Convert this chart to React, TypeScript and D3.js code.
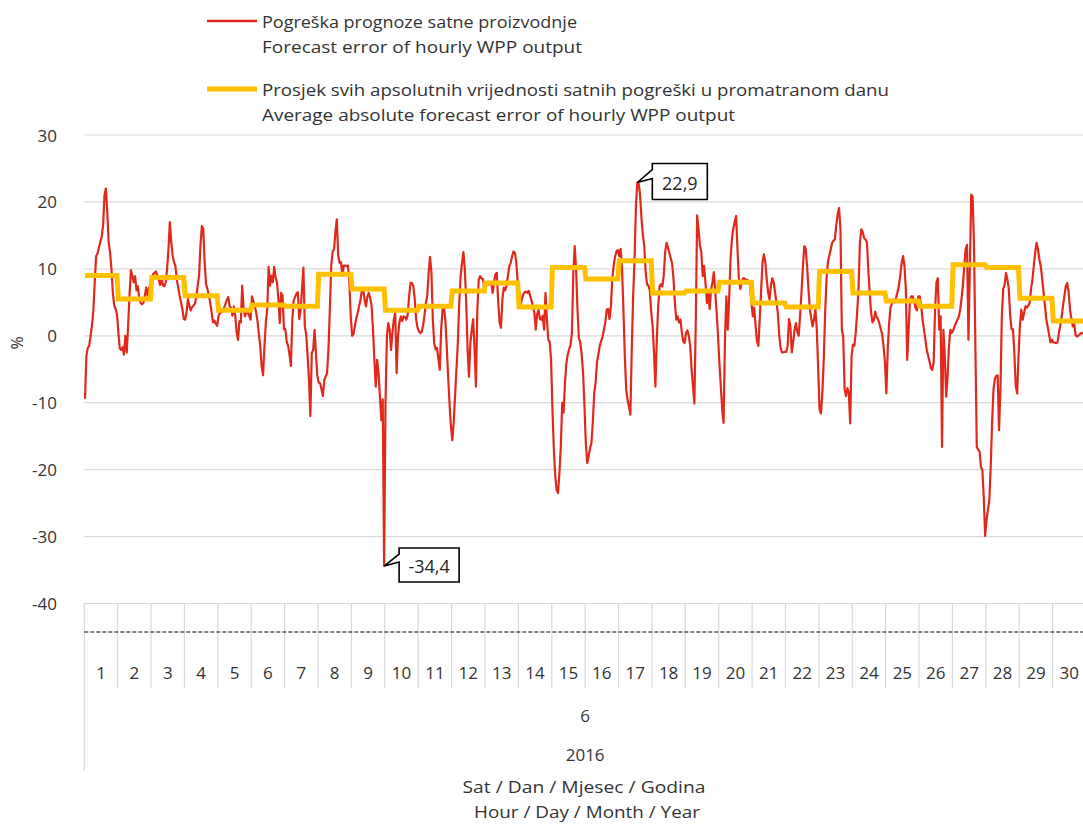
import React from 'react';
import * as d3 from 'd3';

// ---------- data ----------
const dayLabels = ['1','2','3','4','5','6','7','8','9','10','11','12','13','14','15','16','17','18','19','20','21','22','23','24','25','26','27','28','29','30'];
const monthLabel = '6';
const yearLabel = '2016';
const yTicks = [30, 20, 10, 0, -10, -20, -30, -40];

const legendRed = ['Pogreška prognoze satne proizvodnje', 'Forecast error of hourly WPP output'];
const legendYellow = ['Prosjek svih apsolutnih vrijednosti satnih pogreški u promatranom danu', 'Average absolute forecast error of hourly WPP output'];
const xTitle = ['Sat / Dan / Mjesec / Godina', 'Hour / Day / Month / Year'];

// daily average of absolute hourly errors (%)
const dailyAvgAbsError = [9.0, 5.5, 8.7, 6.0, 3.8, 4.6, 4.4, 9.2, 7.0, 3.8, 4.4, 6.7, 7.9, 4.3, 10.2, 8.5, 11.2, 6.4, 6.7, 8.0, 4.9, 4.3, 9.6, 6.4, 5.2, 4.4, 10.6, 10.2, 5.6, 2.2];

// hourly forecast error (%), one row per day, 24 hours each
const hourlyError: number[][] = [
  [-9.4, -3, -1.8, -1.5, 0, 1.5, 3.8, 8, 11.9, 12.3, 13.2, 14.0, 14.8, 16.5, 21.0, 22.0, 18.5, 14.0, 12.5, 10.0, 6.5, 4.5, 4.0, 3.2],
  [0.5, -1.9, -2.1, -1.7, -2.8, 0.0, -2.5, 1.5, 6.0, 9.8, 9.0, 8.0, 8.9, 6.8, 7.4, 5.5, 4.9, 4.7, 4.9, 6.0, 7.2, 6.0, 7.2, 7.6],
  [8.8, 9.2, 9.4, 9.6, 9.0, 8.4, 7.6, 8.8, 7.5, 7.4, 8.0, 9.9, 13.0, 17.0, 14.0, 12.0, 11.0, 10.4, 8.4, 7.2, 6.0, 5.0, 4.0, 2.5],
  [2.4, 3.5, 5.5, 4.5, 3.8, 4.3, 4.5, 4.8, 5.8, 7.5, 9.0, 13.5, 16.4, 16.0, 11.0, 7.7, 7.0, 6.0, 5.0, 3.5, 2.0, 2.3, 1.8, 1.5],
  [3.0, 3.4, 3.5, 3.7, 4.2, 4.8, 5.4, 5.8, 4.4, 4.2, 3.0, 4.4, 3.0, 0.5, -0.6, 2.2, 2.0, 7.5, 4.0, 2.9, 3.6, 3.5, 3.0, 2.4],
  [5.9, 5.2, 4.5, 3.5, 2.2, 0.2, -1.6, -4.6, -5.9, -1.5, 2.0, 4.0, 10.3, 7.5, 9.0, 8.0, 10.3, 8.7, 8.0, 5.5, 1.9, 6.4, 6.0, 1.0],
  [1.0, -0.9, -1.5, -2.8, -4.5, 2.4, 5.3, 5.8, 6.3, 6.5, 2.5, 3.9, 7.0, 10.2, 1.4, 0.2, -3.0, -6.5, -12.0, -2.6, -2.1, 0.9, -2.6, -6.0],
  [-7.0, -7.1, -8.0, -9.0, -6.6, -6.1, -5.6, -2.0, 4.0, 10.5, 12.6, 12.9, 15.5, 17.4, 12.0, 10.9, 11.0, 9.0, 10.5, 10.5, 10.4, 10.5, 8.0, 3.0],
  [0.0, 0.3, 1.5, 2.6, 3.4, 4.4, 5.3, 6.8, 7.0, 5.3, 4.4, 5.9, 6.4, 5.6, 4.5, 1.0, -3.6, -7.6, -3.6, -5.6, -9.1, -12.6, -9.5, -34.4],
  [-10.0, 0.0, 1.9, 0.9, -2.1, 0.5, 2.5, 3.4, -5.6, 0.0, 2.0, 2.9, 2.2, 2.9, 2.8, 2.4, 3.2, 6.0, 7.9, 7.9, 7.4, 5.5, 2.5, 1.2],
  [0.7, 0.4, 0.6, 1.5, 3.0, 4.9, 6.0, 9.4, 11.8, 9.5, 2.5, -1.1, -2.0, -1.8, -3.4, -5.1, 1.0, 3.9, 4.2, 2.4, -1.6, -6.0, -10.0, -13.5],
  [-15.6, -13.0, -9.0, -5.0, -1.0, 5.0, 8.9, 10.9, 12.5, 10.0, 5.0, -2.0, -6.1, -1.1, 0.9, 2.5, -2.0, -7.6, 3.9, 8.4, 8.9, 8.6, 8.5, 7.0],
  [8.0, 7.8, 7.6, 7.8, 7.9, 6.4, 8.0, 9.2, 9.4, 5.0, 2.0, 1.2, 5.4, 7.2, 6.8, 7.5, 9.0, 10.4, 10.9, 11.9, 12.6, 12.4, 11.0, 8.0],
  [6.4, 4.5, 5.5, 6.2, 6.5, 6.6, 6.4, 6.7, 6.0, 5.2, 4.3, 3.4, 0.9, 3.2, 3.9, 2.5, 2.4, 3.0, 0.9, 6.4, 2.5, -0.6, -0.9, -3.5],
  [-11.1, -17.0, -21.0, -23.0, -23.5, -20.5, -16.6, -10.0, -11.5, -7.0, -4.1, -2.8, -2.0, -1.4, 0.5, 9.5, 13.4, 9.9, 3.9, -0.4, -1.0, -2.8, -5.5, -10.5],
  [-16.1, -19.0, -18.0, -16.8, -16.0, -13.0, -8.6, -7.0, -4.0, -2.8, -1.5, -0.8, -0.1, 0.9, 2.0, 3.9, 4.0, 2.5, 4.4, 8.4, 10.5, 11.8, 12.6, 12.8],
  [11.9, 13.0, 10.0, 4.0, -3.0, -8.0, -9.6, -10.6, -11.8, -2.0, 6.0, 11.4, 19.4, 22.9, 22.7, 21.0, 17.5, 15.0, 13.4, 9.5, 7.7, 7.5, 6.8, 3.5],
  [1.4, -2.5, -7.6, -0.6, 4.4, 7.4, 7.7, 7.4, 9.0, 12.5, 13.9, 13.2, 12.4, 11.6, 10.8, 8.5, 5.0, 2.4, 2.9, 2.0, 2.4, 0.5, -0.8, -1.1],
  [0.4, 0.8, 0.0, -1.5, -5.0, -7.5, -10.1, 2.0, 18.0, 16.0, 13.5, 12.5, 8.9, 10.4, 7.9, 4.9, 6.5, 4.0, 6.9, 8.0, 9.5, 6.5, 3.5, 0.0],
  [-4.1, -7.5, -11.0, -13.0, -0.6, 5.9, 0.9, 5.5, 11.5, 14.5, 16.0, 17.0, 17.9, 12.9, 8.5, 7.0, 8.0, 8.6, 8.6, 8.2, 8.4, 8.0, 7.6, 5.0],
  [2.9, 4.2, 1.5, -0.8, -1.5, 2.5, 6.9, 11.0, 12.2, 11.0, 8.5, 6.5, 5.4, 7.5, 8.6, 8.0, 6.5, 5.0, 3.4, 0.0, -1.8, -2.5, -2.5, -2.4],
  [-2.4, -1.6, 2.5, 1.5, -2.5, -1.0, 0.8, 1.9, 0.6, 0.0, 3.0, 6.5, 10.2, 13.4, 13.0, 10.5, 7.0, 4.0, 2.6, 1.4, 2.5, 4.0, 1.0, -5.0],
  [-11.0, -11.6, -8.5, -3.5, 3.4, 8.5, 11.0, 12.0, 12.9, 13.9, 14.2, 14.4, 16.5, 18.2, 19.1, 16.0, 0.9, -0.1, -8.0, -9.0, -7.8, -8.5, -13.1, -3.0],
  [-1.3, -1.5, 0.5, 3.5, 7.0, 14.0, 15.9, 15.5, 14.6, 14.4, 14.0, 10.0, 6.5, 3.5, 2.0, 2.3, 3.6, 2.8, 2.5, 1.8, 1.0, 0.2, -1.6, -4.0],
  [-8.6, -2.0, 1.9, 4.2, 4.8, 5.4, 5.0, 5.7, 6.5, 7.5, 9.0, 10.9, 11.9, 10.5, 7.0, -3.6, 0.9, 5.4, 5.9, 5.9, 5.0, 4.2, 3.8, 5.9],
  [5.9, 4.5, 2.5, 1.0, -0.5, -2.1, -3.0, -3.8, -4.8, -5.1, -4.0, 3.9, 8.0, 8.6, 0.9, 2.9, -16.6, 0.9, -3.0, -9.1, -6.1, -1.6, 0.9, 0.4],
  [0.8, 1.4, 1.9, 2.4, 2.8, 3.8, 5.5, 7.5, 10.4, 13.0, 13.6, -0.6, 10.0, 21.1, 20.8, 13.4, -1.6, -16.6, -17.0, -17.3, -19.6, -20.0, -24.1, -29.9],
  [-27.5, -26.0, -24.6, -19.6, -13.0, -8.0, -6.4, -6.0, -5.9, -14.1, -8.0, 3.0, 7.0, 7.6, 9.4, 8.4, 7.0, 3.0, 1.0, 1.0, -2.6, -7.5, -8.6, -3.0],
  [1.5, 3.9, 2.4, 3.4, 4.4, 4.2, 4.5, 4.9, 7.0, 8.4, 10.5, 12.5, 13.9, 12.9, 11.4, 10.4, 8.5, 6.5, 4.5, 2.4, 1.3, 0.1, -1.0, -0.6],
  [-1.0, -1.0, -1.1, -1.0, 0.4, 1.5, 2.8, 4.5, 6.0, 7.4, 7.9, 6.5, 4.0, 2.5, 1.4, 1.8, 0.1, -0.1, 0.0, 0.2, 0.4, 0.4, 0.5, 0.5],
];

// ---------- layout ----------
const W = 1083;
const H = 824;
const plotLeft = 84.3;
const plotRight = 1086;
const plotTop = 135;
const plotBottom = 603.5;
const FONT = "'Open Sans', 'Liberation Sans', sans-serif";
const TEXT = '#333333';
const GRID = '#d9d9d9';
const RED = '#e0281c';
const GOLD = '#ffc000';

export default function App() {
  const flat = hourlyError.flat();
  const n = flat.length;
  const hoursPerDay = 24;

  const x = d3.scaleLinear().domain([0, n]).range([plotLeft, plotRight]);
  const y = d3.scaleLinear().domain([-40, 30]).range([plotBottom, plotTop]);

  const redPath = d3.line<number>().x((_, i) => x(i + 0.5)).y(d => y(d))(flat) || '';
  const avgSeries = flat.map((_, i) => dailyAvgAbsError[Math.floor(i / hoursPerDay)]);
  const goldPath = d3.line<number>().x((_, i) => x(i + 0.5)).y(d => y(d))(avgSeries) || '';

  const iMin = d3.minIndex(flat);
  const iMax = d3.maxIndex(flat);
  const fmt = (v: number) => v.toFixed(1).replace('.', ',');

  const callout = (i: number, w: number, h: number) => {
    const tx = x(i + 0.5);
    const ty = y(flat[i]);
    const bl = tx + 15;
    const bt = ty - h / 2 - 1;
    const path = `M${bl},${bt} H${bl + w} V${bt + h} H${bl} V${ty - 4} L${tx},${ty} L${bl},${bt + 6} Z`;
    return (
      <g key={'c' + i}>
        <path d={path} fill="#fff" stroke="#000" strokeWidth={1.6} />
        <text x={bl + w / 2} y={bt + h / 2 + 1} textAnchor="middle" dominantBaseline="central" fontSize={18} fill="#262626" fontFamily={FONT}>{fmt(flat[i])}</text>
      </g>
    );
  };

  const dayEdges = d3.range(dayLabels.length + 1).map(d => x(d * hoursPerDay));
  const midX = (plotLeft + plotRight) / 2;

  return (
    <svg width={W} height={H} style={{ position: 'absolute', left: 0, top: 0 }} fontFamily={FONT}>
      <rect x={0} y={0} width={W} height={H} fill="#fff" />
      {/* legend */}
      <line x1={207} x2={257} y1={21} y2={21} stroke={RED} strokeWidth={2.5} />
      <text x={262} y={21} dominantBaseline="central" fontSize={17} fill={TEXT} textLength={315} lengthAdjust="spacingAndGlyphs">{legendRed[0]}</text>
      <text x={262} y={46} dominantBaseline="central" fontSize={17} fill={TEXT} textLength={320} lengthAdjust="spacingAndGlyphs">{legendRed[1]}</text>
      <line x1={207} x2={257} y1={89} y2={89} stroke={GOLD} strokeWidth={5} />
      <text x={262} y={89} dominantBaseline="central" fontSize={17} fill={TEXT} textLength={627} lengthAdjust="spacingAndGlyphs">{legendYellow[0]}</text>
      <text x={262} y={114} dominantBaseline="central" fontSize={17} fill={TEXT} textLength={473} lengthAdjust="spacingAndGlyphs">{legendYellow[1]}</text>

      {/* gridlines + y labels */}
      {yTicks.map(t => (
        <g key={'t' + t}>
          <line x1={plotLeft} x2={plotRight} y1={y(t)} y2={y(t)} stroke={GRID} strokeWidth={1.2} />
          <text x={57} y={y(t)} textAnchor="end" dominantBaseline="central" fontSize={17} fill={TEXT}>{t}</text>
        </g>
      ))}
      <text transform={`translate(17,343) rotate(-90)`} textAnchor="middle" dominantBaseline="central" fontSize={16} fill={TEXT}>%</text>

      {/* category axis */}
      {dayEdges.map((ex, d) => (
        <line key={'e' + d} x1={ex} x2={ex} y1={plotBottom} y2={d === 0 ? 771 : 688} stroke={GRID} strokeWidth={1.2} />
      ))}
      <line x1={plotLeft} x2={plotRight} y1={632} y2={632} stroke="#000" strokeWidth={1} strokeDasharray="4 2" />
      {dayLabels.map((lab, d) => (
        <text key={'d' + d} x={(dayEdges[d] + dayEdges[d + 1]) / 2} y={672} textAnchor="middle" dominantBaseline="central" fontSize={17} fill={TEXT}>{lab}</text>
      ))}
      <text x={midX} y={715} textAnchor="middle" dominantBaseline="central" fontSize={17} fill={TEXT}>{monthLabel}</text>
      <text x={midX} y={754} textAnchor="middle" dominantBaseline="central" fontSize={17} fill={TEXT}>{yearLabel}</text>
      <text x={584} y={786} textAnchor="middle" dominantBaseline="central" fontSize={17} fill={TEXT} textLength={243} lengthAdjust="spacingAndGlyphs">{xTitle[0]}</text>
      <text x={587} y={811} textAnchor="middle" dominantBaseline="central" fontSize={17} fill={TEXT} textLength={226} lengthAdjust="spacingAndGlyphs">{xTitle[1]}</text>

      {/* series */}
      <path d={redPath} fill="none" stroke={RED} strokeWidth={2.2} strokeLinejoin="round" />
      <path d={goldPath} fill="none" stroke={GOLD} strokeWidth={5} strokeLinejoin="miter" />

      {/* data labels */}
      {callout(iMin, 60, 34)}
      {callout(iMax, 55, 36)}
    </svg>
  );
}
